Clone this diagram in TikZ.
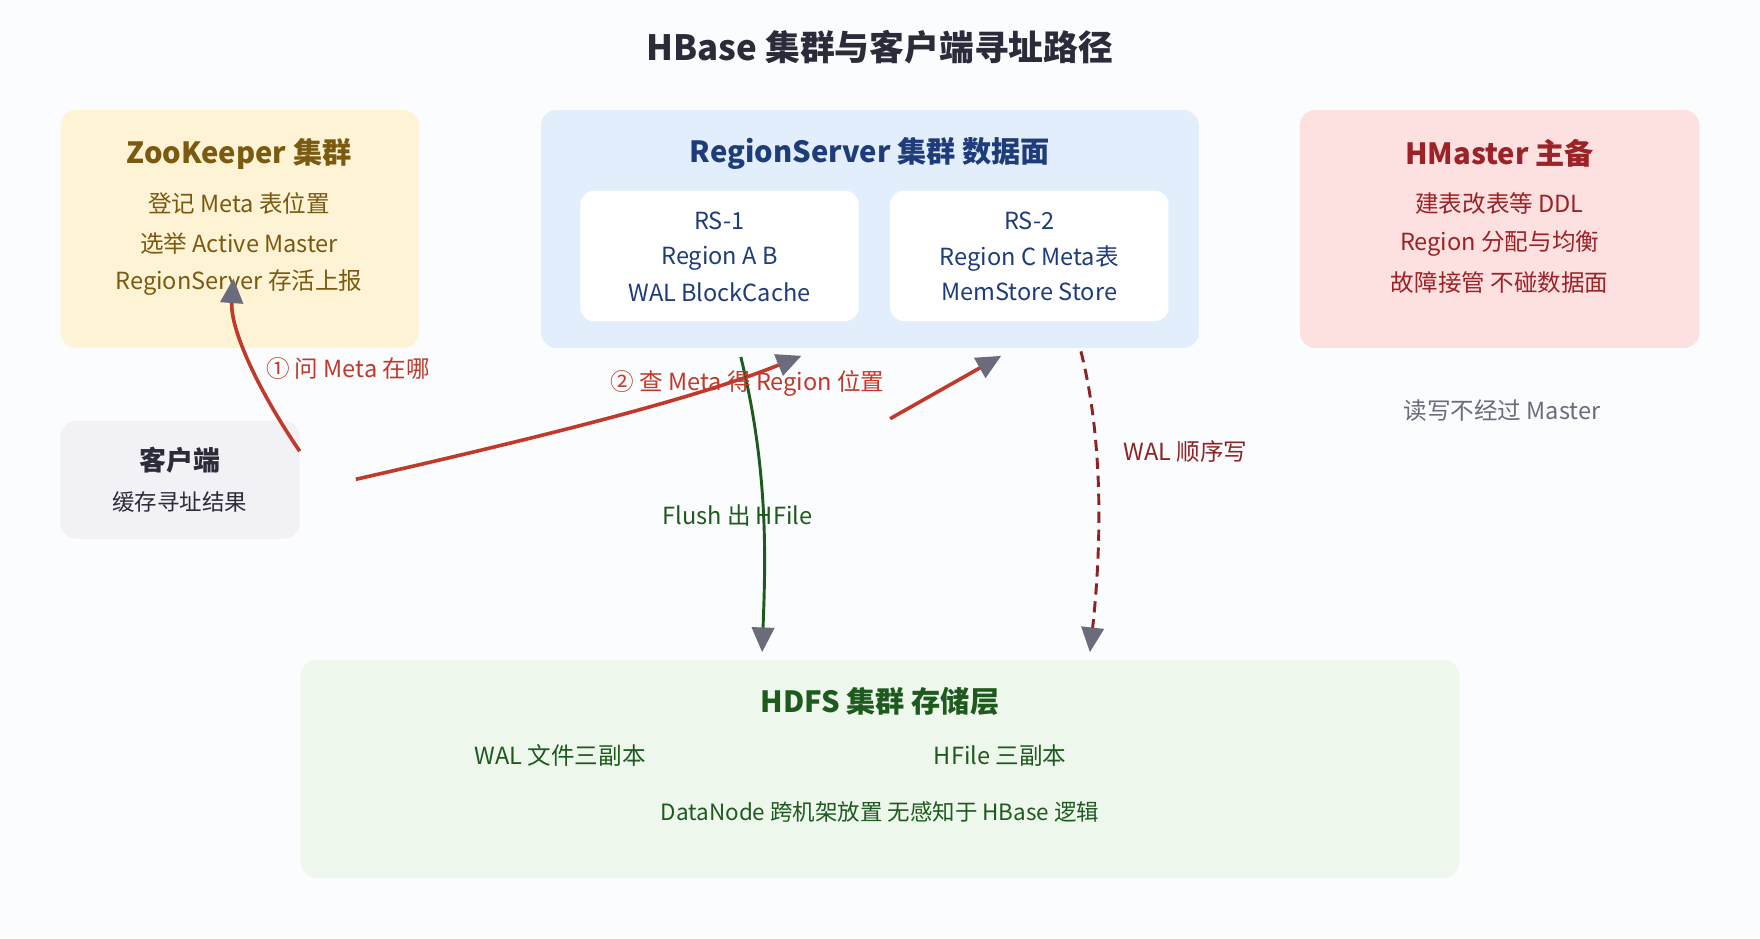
\documentclass[tikz,border=0pt]{standalone}
\usepackage{fontspec}
\setmainfont{Noto Sans CJK SC}
\usetikzlibrary{positioning,arrows.meta}
\definecolor{zkfill}{HTML}{FFF3D6}\definecolor{zktext}{HTML}{7A5A10}
\definecolor{rsfill}{HTML}{E2EEFB}\definecolor{rstext}{HTML}{1F3C7A}
\definecolor{hmfill}{HTML}{FDE1E1}\definecolor{hmtext}{HTML}{9B2226}
\definecolor{clfill}{HTML}{F2F1F5}\definecolor{cltext}{HTML}{2B2B3A}
\definecolor{hdfill}{HTML}{EEF7EC}\definecolor{hdtext}{HTML}{1E5A1E}
\definecolor{askred}{HTML}{C0392B}\definecolor{walred}{HTML}{8E2323}
\definecolor{tipgray}{HTML}{6B6B7B}\definecolor{bg}{HTML}{FBFCFE}
\tikzset{
box/.style={draw=none, rounded corners=7pt, inner sep=0pt},
ttl/.style={font=\fontsize{13}{15}\selectfont\bfseries},
txt/.style={font=\fontsize{10.5}{12}\selectfont},
tip/.style={-{Triangle[length=11pt,width=10pt,fill=tipgray,color=tipgray]}}
}
\begin{document}
\begin{tikzpicture}[x=0.5pt,y=-0.5pt]
\fill[bg] (0,0) rectangle (1568,836);
\node[font=\fontsize{15.5}{18}\selectfont\bfseries, text=cltext] (title) at (784,42) {HBase 集群与客户端寻址路径};

% zookeeper
\fill[zkfill, rounded corners=7pt] (54,98) rectangle (373,310);
\node[ttl, text=zktext] (zk) at (213,137) {ZooKeeper 集群};
\node[txt, text=zktext] (zk1) at (213,181) {登记 Meta 表位置};
\node[txt, text=zktext] (zk2) at (213,217) {选举 Active Master};
\node[txt, text=zktext] (zk3) at (213,252) {RegionServer 存活上报};

% regionserver
\fill[rsfill, rounded corners=7pt] (482,98) rectangle (1068,310);
\node[ttl, text=rstext] (rs) at (775,137) {RegionServer 集群 数据面};
\fill[white, rounded corners=6pt] (517,170) rectangle (765,286);
\fill[white, rounded corners=6pt] (793,170) rectangle (1041,286);
\node[txt, text=rstext] (rs1) at (641,197) {RS-1};
\node[txt, text=rstext] (rs1a) at (641,230) {Region A B};
\node[txt, text=rstext] (rs1b) at (641,260) {WAL BlockCache};
\node[txt, text=rstext] (rs2) at (917,197) {RS-2};
\node[txt, text=rstext] (rs2a) at (917,230) {Region C Meta表};
\node[txt, text=rstext] (rs2b) at (917,260) {MemStore Store};

% hmaster
\fill[hmfill, rounded corners=7pt] (1158,98) rectangle (1514,310);
\node[ttl, text=hmtext] (hm) at (1336,137) {HMaster 主备};
\node[txt, text=hmtext] (hm1) at (1336,181) {建表改表等 DDL};
\node[txt, text=hmtext] (hm2) at (1336,217) {Region 分配与均衡};
\node[txt, text=hmtext] (hm3) at (1336,252) {故障接管 不碰数据面};
\node[txt, text=tipgray] (note) at (1338,366) {读写不经过 Master};

% client
\fill[clfill, rounded corners=7pt] (54,375) rectangle (267,480);
\node[ttl, font=\fontsize{12}{14}\selectfont\bfseries, text=cltext] (cl) at (160,410) {客户端};
\node[txt, font=\fontsize{10}{12}\selectfont, text=cltext] (cl1) at (160,447) {缓存寻址结果};

% hdfs
\fill[hdfill, rounded corners=7pt] (268,588) rectangle (1300,782);
\node[ttl, text=hdtext] (hd) at (784,625) {HDFS 集群 存储层};
\node[txt, text=hdtext] (hd1) at (499,673) {WAL 文件三副本};
\node[txt, text=hdtext] (hd2) at (891,673) {HFile 三副本};
\node[txt, font=\fontsize{10}{12}\selectfont, text=hdtext] (hd3) at (784,723) {DataNode 跨机架放置 无感知于 HBase 逻辑};

% ends of connectors
\coordinate (c1) at (267,402); \coordinate (z1) at (208,248);
\coordinate (c2) at (317,427); \coordinate (r1) at (714,317);
\coordinate (c3) at (793,373); \coordinate (r2) at (892,317);
\coordinate (f1) at (660,318); \coordinate (f2) at (679,581);
\coordinate (w1) at (963,313); \coordinate (w2) at (971,581);

\draw[askred, line width=1.6pt, tip] (c1) .. controls (225,340) and (205,290) .. (z1);
\draw[askred, line width=1.6pt, tip] (c2) .. controls (480,390) and (620,355) .. (r1);
\draw[askred, line width=1.6pt, tip] (c3) -- (r2);
\draw[hdtext, line width=1.3pt, tip] (f1) .. controls (685,420) and (682,500) .. (f2);
\draw[walred, line width=1.3pt, dashed, dash pattern=on 5pt off 3pt, tip] (w1) .. controls (985,400) and (980,500) .. (w2);

\node[txt, text=askred] (l1) at (310,328) {① 问 Meta 在哪};
\node[txt, text=askred] (l2) at (666,342) {② 查 Meta 得 Region 位置};
\node[txt, text=hdtext] (l3) at (657,459) {Flush 出 HFile};
\node[txt, text=walred] (l4) at (1056,402) {WAL 顺序写};
\end{tikzpicture}
\end{document}
